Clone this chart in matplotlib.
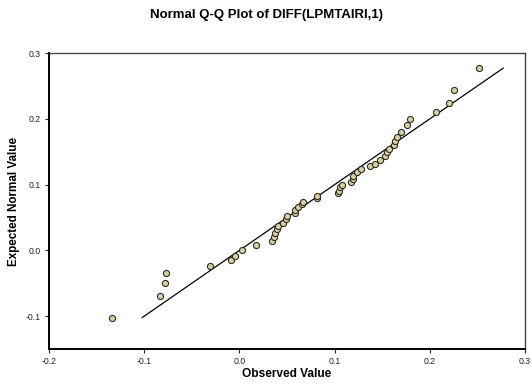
import matplotlib
matplotlib.use("Agg")
import matplotlib.pyplot as plt

plt.rcParams['font.family'] = ['Liberation Sans', 'DejaVu Sans']

# observed values (sorted) and expected normal values
observed = [-0.134, -0.083, -0.078, -0.077, -0.031, -0.009, -0.005, 0.003, 0.017,
            0.034, 0.036, 0.0375, 0.039, 0.041, 0.0455, 0.049, 0.050, 0.058, 0.0585,
            0.062, 0.0655, 0.0665, 0.081, 0.082, 0.104, 0.105, 0.106, 0.1075, 0.1176,
            0.119, 0.1197, 0.123, 0.128, 0.137, 0.142, 0.148, 0.1527, 0.1547, 0.157,
            0.162, 0.163, 0.1656, 0.170, 0.1765, 0.1796, 0.206, 0.2206, 0.2255, 0.252]
expected = [-0.103, -0.069, -0.050, -0.035, -0.024, -0.015, -0.008, 0.001, 0.008,
            0.014, 0.021, 0.027, 0.032, 0.037, 0.042, 0.048, 0.052, 0.057, 0.061,
            0.066, 0.070, 0.074, 0.079, 0.083, 0.087, 0.091, 0.096, 0.100, 0.1045,
            0.109, 0.113, 0.119, 0.123, 0.128, 0.132, 0.137, 0.143, 0.149, 0.154,
            0.160, 0.166, 0.173, 0.180, 0.190, 0.1995, 0.2106, 0.224, 0.2435, 0.277]
line_ends = [-0.102, 0.277]
xticks = [-0.2, -0.1, 0.0, 0.1, 0.2, 0.3]
yticks = [-0.1, 0.0, 0.1, 0.2, 0.3]

fig = plt.figure(figsize=(5.32, 3.87), dpi=100)
ax = fig.add_axes([0.092, 0.098, 0.895, 0.765])

ax.plot(line_ends, line_ends, color='black', lw=0.9, zorder=2)
ax.plot(observed, expected, 'o', ms=4.4, mfc='#d9d29d', mec='#2b2b2b', mew=0.8, zorder=3)

ax.set_xlim(-0.2, 0.3)
ax.set_ylim(-0.15, 0.3)
ax.set_xticks(xticks)
ax.set_yticks(yticks)
ax.set_xticklabels(['-0.2', '-0.1', '0.0', '0.1', '0.2', '0.3'])
ax.set_yticklabels(['-0.1', '0.0', '0.1', '0.2', '0.3'])
ax.tick_params(labelsize=6.3, length=3, width=0.8, pad=3, colors='#222222')

for side in ['left', 'bottom']:
    ax.spines[side].set_linewidth(1.4)
for side in ['top', 'right']:
    ax.spines[side].set_linewidth(1.0)
    ax.spines[side].set_color('#444444')

ax.set_xlabel('Observed Value', fontsize=8.6, fontweight='bold', labelpad=1)
ax.set_ylabel('Expected Normal Value', fontsize=8.4, fontweight='bold', labelpad=4)
fig.text(0.5, 0.962, 'Normal Q-Q Plot of DIFF(LPMTAIRI,1)', ha='center', va='center',
         fontsize=9.5, fontweight='bold')

fig.savefig('out.png', dpi=100)
